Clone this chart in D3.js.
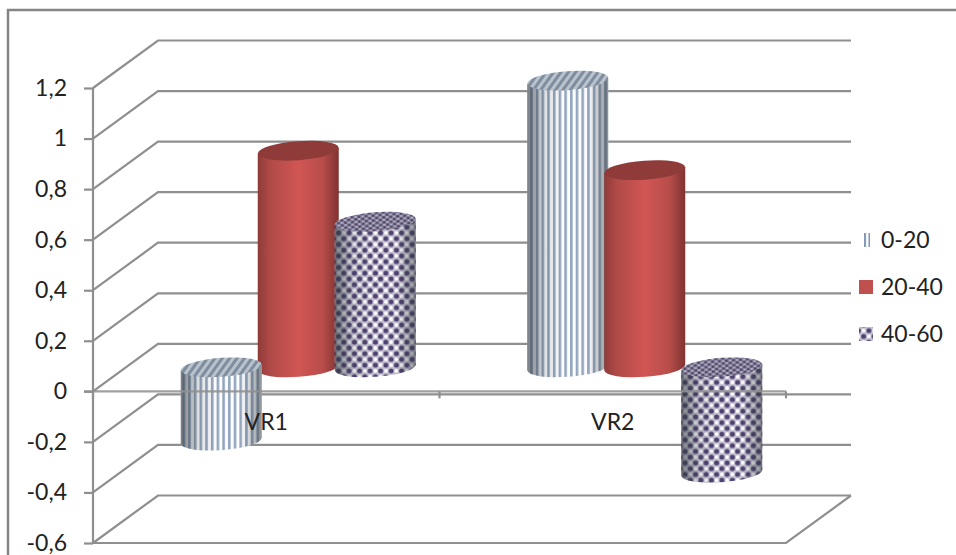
<!DOCTYPE html>
<html>
<head>
<meta charset="utf-8">
<script src="https://cdn.jsdelivr.net/npm/d3@7/dist/d3.min.js"></script>
<style>
html,body{margin:0;padding:0;background:#fff;}
svg{display:block;}
text{font-family:Lato,"Open Sans",sans-serif;fill:#222;}
</style>
</head>
<body>
<script>
const categories = ["VR1", "VR2"];
const seriesNames = ["0-20", "20-40", "40-60"];
const values0to20 = [-0.29, 1.134];
const values20to40 = [0.857, 0.78];
const values40to60 = [0.576, -0.417];
const allValues = [values0to20, values20to40, values40to60];
const tickValues = [-0.6, -0.4, -0.2, 0, 0.2, 0.4, 0.6, 0.8, 1, 1.2];

const W = 956, H = 555;
const wallDx = 65, wallDy = -47.5;   // offset of the back wall from the front plane
const midDx = 32, midDy = -24;       // depth at which the cylinders stand
const rx = 40.5, ry = 9.5, tilt = 3; // elliptical caps, slightly rotated
const lineColor = "#8f8f8f";
const labelSize = 23;

const svg = d3.select("body").append("svg").attr("width", W).attr("height", H);
const defs = svg.append("defs");

const y = d3.scaleLinear().domain([-0.6, 1.2]).range([543, 88]);
const x0 = d3.scaleBand().domain(categories).range([93, 786]);
const x1 = d3.scaleBand().domain(seriesNames)
  .range([x0.bandwidth() / 2 - 115.5, x0.bandwidth() / 2 + 115.5]);

// Fill patterns -----------------------------------------------------------
function stripes(id, w, h, bg, fg, fgW, rotate) {
  const p = defs.append("pattern").attr("id", id).attr("patternUnits", "userSpaceOnUse")
    .attr("width", w).attr("height", h);
  if (rotate) p.attr("patternTransform", `rotate(${rotate})`);
  p.append("rect").attr("width", w).attr("height", h).attr("fill", bg);
  p.append("rect").attr("width", fgW).attr("height", h).attr("fill", fg);
}
stripes("sideStripes", 5.7, 10, "#fdfdfe", "#93a6bd", 2.6);
stripes("capStripes", 6, 10, "#b9c3ce", "#7f8d9e", 3, 40);
stripes("legendStripes", 4.5, 10, "#ffffff", "#7f96b2", 2);

function dots(id, w, h, bg, dark, light, r1, r2) {
  const p = defs.append("pattern").attr("id", id).attr("patternUnits", "userSpaceOnUse")
    .attr("width", w).attr("height", h);
  p.append("rect").attr("width", w).attr("height", h).attr("fill", bg);
  [[w * .25, h * .25], [w * .75, h * .75]].forEach(c =>
    p.append("circle").attr("cx", c[0]).attr("cy", c[1]).attr("r", r1).attr("fill", dark));
  [[w * .75, h * .25], [w * .25, h * .75]].forEach(c =>
    p.append("circle").attr("cx", c[0]).attr("cy", c[1]).attr("r", r2).attr("fill", light));
}
dots("sideDots", 10.5, 11.5, "#c4bfd0", "#4f4170", "#ffffff", 2.5, 1.9);
dots("capDots", 7, 5, "#8b86a0", "#4f4668", "#c4c1cf", 1.4, 1);

// Horizontal shading gives the cylinders their round look
function shade(id, stops) {
  const g = defs.append("linearGradient").attr("id", id);
  stops.forEach(s => g.append("stop").attr("offset", s[0])
    .attr("stop-color", s[1]).attr("stop-opacity", s[2] === undefined ? 1 : s[2]));
}
shade("redSide", [[0, "#8f3b39"], [.15, "#b04a47"], [.5, "#d05653"], [.8, "#b84d4a"], [1, "#7f3331"]]);
shade("edgeShade", [[0, "#303840", .65], [.22, "#303840", .15], [.45, "#303840", 0], [.75, "#303840", 0], [1, "#303840", .55]]);

const sideFill = ["url(#sideStripes)", "url(#redSide)", "url(#sideDots)"];
const capFill = ["url(#capStripes)", "#8e3b39", "url(#capDots)"];

// Outer chart frame -------------------------------------------------------
svg.append("path").attr("d", `M8,${H}V10H${W}`).attr("fill", "none")
  .attr("stroke", "#858585").attr("stroke-width", 2.5);

// Walls: every gridline runs along the side wall and then across the back
const grid = svg.append("g").attr("fill", "none").attr("stroke", lineColor).attr("stroke-width", 2.2);
tickValues.forEach(v => {
  const p = d3.path();
  p.moveTo(93, y(v));
  p.lineTo(93 + wallDx, y(v) + wallDy);
  p.lineTo(786 + wallDx, y(v) + wallDy);
  grid.append("path").attr("d", p.toString());
});
grid.append("path").attr("d", `M93,${y(-0.6)}H786L${786 + wallDx},${y(-0.6) + wallDy}`);

// Value axis
const yAxis = d3.axisLeft(y).tickValues(tickValues).tickSize(9).tickPadding(17)
  .tickFormat(v => String(v).replace(".", ","));
const yG = svg.append("g").attr("transform", "translate(93,0)").call(yAxis);
yG.selectAll("path,line").attr("stroke", lineColor).attr("stroke-width", 2.2);
yG.select(".domain").attr("d", `M0,${y(1.2)}V${y(-0.6)}`);
yG.selectAll("text").attr("font-size", labelSize).attr("fill", "#222")
  .style("font-family", "Lato,'Open Sans',sans-serif");

// Cylinders ---------------------------------------------------------------
const marks = [];
allValues.forEach((vals, s) => vals.forEach((v, c) => marks.push({ s, c, v })));

function drawCylinder(m) {
  const cx = x0(categories[m.c]) + x1(seriesNames[m.s]) + x1.bandwidth() / 2 + midDx;
  const yTop = y(Math.max(m.v, 0)) + midDy;
  const yBot = y(Math.min(m.v, 0)) + midDy;
  const angle = Math.atan2(-tilt, rx) * 180 / Math.PI;
  const g = svg.append("g");
  const body = `M${cx - rx},${yTop + tilt}V${yBot + tilt}` +
    `A${rx},${ry} ${angle} 0 0 ${cx + rx},${yBot - tilt}V${yTop - tilt}Z`;
  g.append("path").attr("d", body).attr("fill", sideFill[m.s]);
  if (m.s !== 1) g.append("path").attr("d", body).attr("fill", "url(#edgeShade)");
  g.append("ellipse").attr("rx", rx).attr("ry", ry)
    .attr("transform", `translate(${cx},${yTop}) rotate(${angle})`)
    .attr("fill", capFill[m.s]);
}

// Columns above zero go first, the ones hanging below it overlap them
marks.filter(m => m.v >= 0).forEach(drawCylinder);
marks.filter(m => m.v < 0).forEach(drawCylinder);

// Category axis on the zero line
const xAxis = d3.axisBottom(x0).tickSize(0).tickPadding(22);
const xG = svg.append("g").attr("transform", `translate(0,${y(0)})`).call(xAxis);
xG.select(".domain").attr("d", "M84,0H786").attr("stroke", lineColor)
  .attr("stroke-width", 2.2).attr("stroke-opacity", .85);
xG.selectAll("text").attr("font-size", labelSize).attr("fill", "#222")
  .style("font-family", "Lato,'Open Sans',sans-serif");
[...categories.map(c => x0(c)), x0.range()[1]].forEach(px =>
  xG.append("line").attr("x1", px).attr("x2", px).attr("y1", 0).attr("y2", 7)
    .attr("stroke", lineColor).attr("stroke-width", 2.2));

// Legend ------------------------------------------------------------------
const legendFill = ["url(#legendStripes)", "#c0504d", "url(#sideDots)"];
const legendY = d3.scalePoint().domain(seriesNames).range([240, 334]);
seriesNames.forEach((name, i) => {
  const ly = legendY(name);
  svg.append("rect").attr("x", i === 0 ? 863 : 859).attr("y", ly - 7)
    .attr("width", i === 0 ? 7 : 14).attr("height", 14).attr("fill", legendFill[i]);
  svg.append("text").attr("x", 881).attr("y", ly + 7.5).attr("font-size", labelSize).text(name);
});
</script>
</body>
</html>
